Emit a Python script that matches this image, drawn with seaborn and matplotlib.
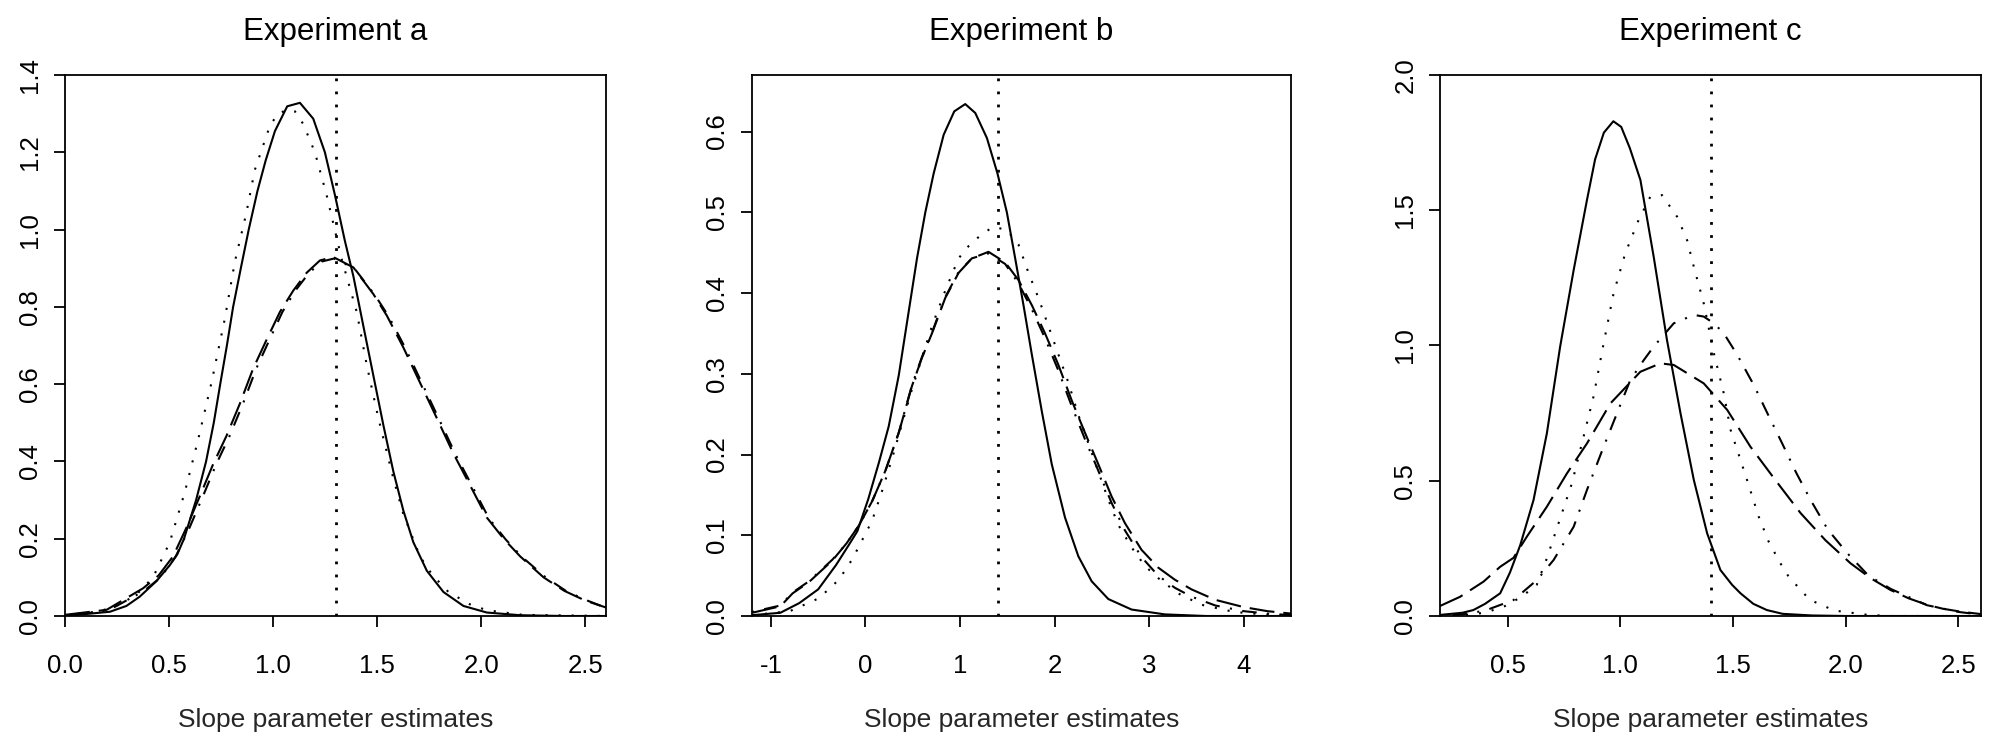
import matplotlib
matplotlib.use("Agg")
import matplotlib.pyplot as plt
import pandas as pd
import seaborn as sns

# ---------------- data ----------------
titles = ["Experiment a", "Experiment b", "Experiment c"]
xlabel = "Slope parameter estimates"
true_values = [1.3, 1.4, 1.4]

# Experiment a
a_solid_x = [0.0, 0.216, 0.295, 0.359, 0.439, 0.503, 0.54, 0.572, 0.63, 0.678, 0.715, 0.746, 0.778, 0.808,
             0.845, 0.883, 0.925, 0.965, 1.009, 1.068, 1.129, 1.193, 1.249, 1.297, 1.345, 1.386, 1.434, 1.482,
             1.530, 1.578, 1.626, 1.674, 1.739, 1.819, 1.915, 2.027, 2.188, 2.4, 2.6]
a_solid_y = [0.0, 0.011, 0.026, 0.05, 0.09, 0.131, 0.16, 0.2, 0.3, 0.4, 0.5, 0.6, 0.7, 0.8,
             0.9, 1.0, 1.1, 1.18, 1.255, 1.319, 1.328, 1.287, 1.2, 1.09, 0.971, 0.879, 0.75, 0.622,
             0.494, 0.374, 0.273, 0.191, 0.117, 0.062, 0.026, 0.009, 0.002, 0.0, 0.0]
a_dot_x = [0.0, 0.167, 0.263, 0.343, 0.423, 0.503, 0.575, 0.640, 0.704, 0.768, 0.816, 0.872, 0.912, 0.985,
           1.025, 1.073, 1.105, 1.145, 1.201, 1.257, 1.329, 1.402, 1.450, 1.506, 1.578, 1.626, 1.706, 1.763,
           1.843, 1.947, 2.027, 2.2, 2.6]
a_dot_y = [0.002, 0.012, 0.03, 0.055, 0.1, 0.19, 0.319, 0.457, 0.604, 0.769, 0.916, 1.044, 1.154, 1.269,
           1.301, 1.310, 1.306, 1.273, 1.2, 1.090, 0.925, 0.787, 0.650, 0.512, 0.356, 0.264, 0.154, 0.108,
           0.062, 0.03, 0.015, 0.003, 0.0]
a_dash_x = [0.0, 0.2, 0.376, 0.45, 0.519, 0.583, 0.648, 0.712, 0.776, 0.840, 0.904, 0.968, 1.033, 1.097,
            1.161, 1.225, 1.289, 1.386, 1.482, 1.546, 1.626, 1.706, 1.787, 1.867, 1.947, 2.027, 2.108, 2.188,
            2.3, 2.4, 2.5, 2.6]
a_dash_y = [0.003, 0.016, 0.072, 0.105, 0.154, 0.228, 0.31, 0.393, 0.466, 0.549, 0.640, 0.714, 0.787, 0.842,
            0.888, 0.920, 0.929, 0.902, 0.833, 0.778, 0.695, 0.604, 0.512, 0.420, 0.338, 0.255, 0.2, 0.154,
            0.1, 0.065, 0.04, 0.022]
a_dd_x = [0.0, 0.2, 0.38, 0.46, 0.532, 0.598, 0.663, 0.727, 0.791, 0.855, 0.919, 0.982, 1.045, 1.107,
          1.170, 1.232, 1.292, 1.390, 1.490, 1.556, 1.636, 1.716, 1.797, 1.877, 1.957, 2.037, 2.118, 2.198,
          2.31, 2.41, 2.51, 2.6]
a_dd_y = [0.002, 0.012, 0.065, 0.1, 0.154, 0.228, 0.31, 0.393, 0.466, 0.549, 0.640, 0.714, 0.787, 0.842,
          0.886, 0.917, 0.925, 0.900, 0.830, 0.775, 0.693, 0.602, 0.510, 0.418, 0.336, 0.253, 0.198, 0.152,
          0.1, 0.064, 0.04, 0.021]

# Experiment b
b_solid_x = [-1.2, -0.9, -0.70, -0.50, -0.312, -0.176, -0.086, 0.03, 0.142, 0.246, 0.352, 0.457, 0.545,
             0.633, 0.721, 0.827, 0.939, 1.055, 1.161, 1.284, 1.396, 1.495, 1.583, 1.671, 1.759, 1.864, 1.970,
             2.110, 2.251, 2.392, 2.568, 2.814, 3.166, 3.6, 4.5]
b_solid_y = [0.001, 0.004, 0.016, 0.033, 0.063, 0.088, 0.105, 0.145, 0.19, 0.235, 0.298, 0.377, 0.443,
             0.500, 0.548, 0.596, 0.625, 0.634, 0.623, 0.592, 0.548, 0.5, 0.443, 0.385, 0.324, 0.254, 0.188,
             0.122, 0.074, 0.043, 0.021, 0.008, 0.002, 0.0, 0.0]
b_dot_x = [-1.2, -0.8, -0.492, -0.281, -0.141, -0.035, 0.070, 0.176, 0.281, 0.387, 0.492, 0.598, 0.703,
           0.844, 0.985, 1.09, 1.231, 1.354, 1.495, 1.618, 1.724, 1.829, 1.935, 2.04, 2.146, 2.251, 2.357,
           2.462, 2.568, 2.673, 2.814, 2.955, 3.095, 3.306, 3.55, 3.9, 4.2, 4.5]
b_dot_y = [0.001, 0.006, 0.022, 0.045, 0.07, 0.094, 0.118, 0.155, 0.195, 0.238, 0.281, 0.320, 0.359,
           0.403, 0.443, 0.458, 0.473, 0.482, 0.478, 0.460, 0.425, 0.394, 0.359, 0.324, 0.289, 0.249, 0.214,
           0.179, 0.144, 0.113, 0.085, 0.062, 0.047, 0.028, 0.014, 0.005, 0.002, 0.0]
b_dash_x = [-1.2, -0.9, -0.771, -0.598, -0.348, -0.2, -0.07, 0.070, 0.211, 0.352, 0.492, 0.598, 0.703,
            0.844, 0.985, 1.126, 1.301, 1.477, 1.618, 1.759, 1.899, 2.04, 2.181, 2.321, 2.462, 2.603, 2.744,
            2.919, 3.095, 3.271, 3.447, 3.7, 4.0, 4.25, 4.5]
b_dash_y = [0.004, 0.012, 0.028, 0.042, 0.069, 0.09, 0.112, 0.142, 0.18, 0.227, 0.285, 0.320, 0.350,
            0.394, 0.425, 0.443, 0.451, 0.438, 0.416, 0.385, 0.350, 0.311, 0.267, 0.227, 0.188, 0.148, 0.115,
            0.082, 0.060, 0.045, 0.033, 0.02, 0.011, 0.006, 0.003]
b_dd_x = [-1.2, -0.9, -0.771, -0.598, -0.348, -0.2, -0.07, 0.070, 0.211, 0.352, 0.492, 0.598,
          0.703, 0.844, 0.985, 1.126, 1.301, 1.477, 1.618, 1.759, 1.899, 2.04, 2.181, 2.321,
          2.462, 2.603, 2.744, 2.919, 3.095, 3.271, 3.447, 3.7, 4.0, 4.25, 4.5]
b_dd_y = [0.005, 0.013, 0.029, 0.043, 0.07, 0.09, 0.112, 0.142, 0.18, 0.227, 0.286, 0.321, 0.351,
          0.395, 0.426, 0.443, 0.449, 0.436, 0.412, 0.380, 0.344, 0.304, 0.260, 0.219, 0.180, 0.140, 0.106,
          0.073, 0.050, 0.035, 0.024, 0.013, 0.006, 0.003, 0.001]

# Experiment c
c_solid_x = [0.2, 0.30, 0.348, 0.40, 0.467, 0.51, 0.556, 0.615, 0.674, 0.733, 0.793, 0.852, 0.888, 0.927,
             0.969, 1.004, 1.042, 1.089, 1.148, 1.207, 1.267, 1.326, 1.385, 1.444, 1.496, 1.533, 1.59, 1.65,
             1.72, 1.85, 2.0, 2.6]
c_solid_y = [0.004, 0.012, 0.022, 0.045, 0.084, 0.16, 0.262, 0.429, 0.675, 0.996, 1.279, 1.538, 1.688, 1.787,
             1.829, 1.808, 1.730, 1.612, 1.328, 1.020, 0.749, 0.503, 0.306, 0.170, 0.115, 0.084, 0.045, 0.022,
             0.008, 0.002, 0.0, 0.0]
c_dot_x = [0.2, 0.3, 0.4, 0.489, 0.56, 0.629, 0.674, 0.726, 0.785, 0.837, 0.881, 0.926, 0.970, 1.022, 1.081,
           1.133, 1.185, 1.252, 1.296, 1.326, 1.370, 1.415, 1.459, 1.489, 1.526, 1.562, 1.614, 1.658, 1.71,
           1.747, 1.84, 1.95, 2.1, 2.2, 2.6]
c_dot_y = [0.0, 0.003, 0.012, 0.037, 0.07, 0.115, 0.213, 0.343, 0.490, 0.663, 0.811, 1.008, 1.193, 1.341,
           1.464, 1.550, 1.556, 1.476, 1.390, 1.291, 1.156, 0.971, 0.823, 0.688, 0.595, 0.503, 0.367, 0.275,
           0.195, 0.145, 0.06, 0.02, 0.004, 0.0, 0.0]
c_dash_x = [0.2, 0.289, 0.393, 0.467, 0.526, 0.585, 0.674, 0.763, 0.852, 0.956, 1.089, 1.178, 1.237, 1.370,
            1.474, 1.577, 1.69, 1.8, 1.91, 2.021, 2.11, 2.199, 2.28, 2.362, 2.43, 2.51, 2.6]
c_dash_y = [0.037, 0.071, 0.127, 0.182, 0.215, 0.293, 0.404, 0.527, 0.638, 0.786, 0.903, 0.934, 0.928, 0.860,
            0.762, 0.626, 0.50, 0.38, 0.28, 0.195, 0.14, 0.096, 0.065, 0.041, 0.027, 0.016, 0.007]
c_dd_x = [0.2, 0.3, 0.4, 0.526, 0.630, 0.704, 0.793, 0.852, 0.926, 0.985, 1.044, 1.104, 1.148, 1.237, 1.326,
          1.370, 1.415, 1.459, 1.519, 1.592, 1.655, 1.718, 1.78, 1.844, 1.92, 2.007, 2.1, 2.2, 2.36, 2.5, 2.6]
c_dd_y = [0.0, 0.006, 0.02, 0.059, 0.133, 0.207, 0.330, 0.466, 0.626, 0.749, 0.872, 0.946, 0.996, 1.082,
          1.113, 1.107, 1.082, 1.045, 0.965, 0.854, 0.745, 0.638, 0.53, 0.429, 0.32, 0.232, 0.15, 0.1, 0.04,
          0.015, 0.005]

x_limits = [(0.0, 2.6), (-1.2, 4.5), (0.2, 2.6)]
y_limits = [(0.0, 1.4), (0.0, 0.67), (0.0, 2.0)]
x_ticks = [[0.0, 0.5, 1.0, 1.5, 2.0, 2.5], [-1, 0, 1, 2, 3, 4], [0.5, 1.0, 1.5, 2.0, 2.5]]
x_tick_labels = [["0.0", "0.5", "1.0", "1.5", "2.0", "2.5"], ["-1", "0", "1", "2", "3", "4"],
                 ["0.5", "1.0", "1.5", "2.0", "2.5"]]
y_ticks = [[0.0, 0.2, 0.4, 0.6, 0.8, 1.0, 1.2, 1.4], [0.0, 0.1, 0.2, 0.3, 0.4, 0.5, 0.6],
           [0.0, 0.5, 1.0, 1.5, 2.0]]
y_tick_labels = [["0.0", "0.2", "0.4", "0.6", "0.8", "1.0", "1.2", "1.4"],
                 ["0.0", "0.1", "0.2", "0.3", "0.4", "0.5", "0.6"],
                 ["0.0", "0.5", "1.0", "1.5", "2.0"]]

panels = [
    [(a_solid_x, a_solid_y, "solid"), (a_dot_x, a_dot_y, "dotted"),
     (a_dash_x, a_dash_y, "dashed"), (a_dd_x, a_dd_y, "dashdot")],
    [(b_solid_x, b_solid_y, "solid"), (b_dot_x, b_dot_y, "dotted"),
     (b_dash_x, b_dash_y, "dashed"), (b_dd_x, b_dd_y, "dashdot")],
    [(c_solid_x, c_solid_y, "solid"), (c_dot_x, c_dot_y, "dotted"),
     (c_dash_x, c_dash_y, "dashed"), (c_dd_x, c_dd_y, "dashdot")],
]

# ---------------- style ----------------
sns.set_theme(style="white")
plt.rcParams['font.family'] = ['Liberation Sans', 'DejaVu Sans']
plt.rcParams['axes.edgecolor'] = 'black'
plt.rcParams['xtick.color'] = 'black'
plt.rcParams['ytick.color'] = 'black'
plt.rcParams['text.color'] = 'black'

LW = 1.5
line_styles = {
    "solid": "-",
    "dotted": (0, (1.0, 5.25)),
    "dashed": (0, (12, 4.3)),
    "dashdot": (0, (1.0, 5, 7, 5)),
}

fig = plt.figure(figsize=(20, 7.39), dpi=100)
axes_pos = [
    (65 / 2000, 123 / 739, 541 / 2000, 541 / 739),
    (752 / 2000, 123 / 739, 539 / 2000, 541 / 739),
    (1440 / 2000, 123 / 739, 541 / 2000, 541 / 739),
]

for i, pos in enumerate(axes_pos):
    ax = fig.add_axes(pos)
    for xs, ys, style in panels[i]:
        df = pd.DataFrame({"x": xs, "y": ys})
        sns.lineplot(data=df, x="x", y="y", ax=ax, color="black", linewidth=LW,
                     linestyle=line_styles[style], sort=False, estimator=None)
    ax.axvline(true_values[i], color="black", linewidth=2.0, linestyle=(0, (1.0, 3.7)))
    ax.set_xlim(*x_limits[i])
    ax.set_ylim(*y_limits[i])
    ax.set_xticks(x_ticks[i])
    ax.set_xticklabels(x_tick_labels[i])
    ax.set_yticks(y_ticks[i])
    ax.set_yticklabels(y_tick_labels[i], rotation=90, va="center")
    ax.tick_params(axis="both", direction="out", length=7.7, width=1.3, labelsize=18.5,
                   bottom=True, left=True)
    ax.tick_params(axis="x", pad=19.5)
    ax.tick_params(axis="y", pad=8.6)
    for sp in ax.spines.values():
        sp.set_visible(True)
        sp.set_linewidth(1.3)
        sp.set_color("black")
    ax.set_xlabel(xlabel, fontsize=19, labelpad=22)
    ax.set_ylabel("")
    ax.set_title(titles[i], fontsize=22.5, pad=25.5)
    ax.grid(False)

fig.savefig("out.png", dpi=100, facecolor="white")
